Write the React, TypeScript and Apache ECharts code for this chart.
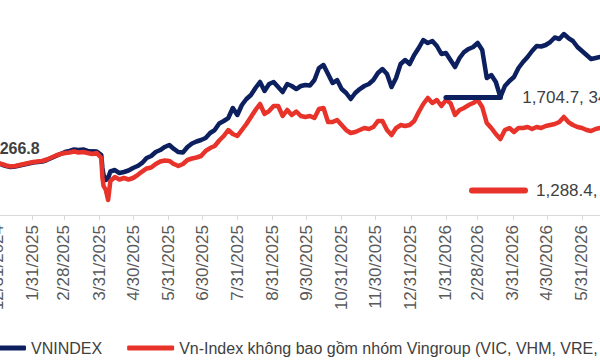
import { useEffect, useRef } from "react";
import * as echarts from "echarts";

// Trading-day samples (every few days), Dec 2024 – Jun 2026
const dates = [
  "2024-12-31", "2025-01-04", "2025-01-08", "2025-01-12", "2025-01-16", "2025-01-20", "2025-01-24", "2025-01-28",
  "2025-02-01", "2025-02-05", "2025-02-09", "2025-02-13", "2025-02-17", "2025-02-21", "2025-02-25", "2025-03-01",
  "2025-03-05", "2025-03-09", "2025-03-13", "2025-03-17", "2025-03-21", "2025-03-25", "2025-03-29", "2025-04-02",
  "2025-04-03", "2025-04-04", "2025-04-06", "2025-04-08", "2025-04-10", "2025-04-14", "2025-04-18", "2025-04-22",
  "2025-04-26", "2025-04-30", "2025-05-04", "2025-05-08", "2025-05-12", "2025-05-16", "2025-05-20", "2025-05-24",
  "2025-05-28", "2025-06-01", "2025-06-05", "2025-06-09", "2025-06-13", "2025-06-17", "2025-06-21", "2025-06-25",
  "2025-06-29", "2025-07-03", "2025-07-07", "2025-07-11", "2025-07-15", "2025-07-19", "2025-07-23", "2025-07-27",
  "2025-07-31", "2025-08-04", "2025-08-08", "2025-08-12", "2025-08-16", "2025-08-20", "2025-08-24", "2025-08-28",
  "2025-09-01", "2025-09-05", "2025-09-09", "2025-09-13", "2025-09-17", "2025-09-21", "2025-09-25", "2025-09-29",
  "2025-10-03", "2025-10-07", "2025-10-11", "2025-10-15", "2025-10-19", "2025-10-23", "2025-10-27", "2025-10-31",
  "2025-11-04", "2025-11-08", "2025-11-12", "2025-11-16", "2025-11-20", "2025-11-24", "2025-11-28", "2025-12-02",
  "2025-12-06", "2025-12-10", "2025-12-14", "2025-12-18", "2025-12-22", "2025-12-26", "2025-12-30", "2026-01-03",
  "2026-01-07", "2026-01-11", "2026-01-15", "2026-01-19", "2026-01-23", "2026-01-27", "2026-01-31", "2026-02-04",
  "2026-02-08", "2026-02-12", "2026-02-16", "2026-02-20", "2026-02-24", "2026-02-28", "2026-03-04", "2026-03-08",
  "2026-03-12", "2026-03-16", "2026-03-20", "2026-03-24", "2026-03-28", "2026-04-01", "2026-04-05", "2026-04-09",
  "2026-04-13", "2026-04-17", "2026-04-21", "2026-04-25", "2026-04-29", "2026-05-03", "2026-05-07", "2026-05-11",
  "2026-05-15", "2026-05-19", "2026-05-23", "2026-05-27", "2026-05-31", "2026-06-04", "2026-06-08", "2026-06-12",
  "2026-06-16",
];

const vnindex = [
  1266.8, 1255.9, 1245.9, 1239.2, 1242.6, 1249.2, 1255.9, 1262.5,
  1269.2, 1272.5, 1275.8, 1285.8, 1299.1, 1312.4, 1325.7, 1339.0,
  1345.7, 1355.6, 1352.3, 1355.6, 1345.7, 1343.2, 1342.3, 1319.1,
  1232.6, 1186.0, 1152.8, 1166.1, 1209.3, 1219.3, 1199.3, 1206.0,
  1216.0, 1232.6, 1245.9, 1265.9, 1299.1, 1312.4, 1339.0, 1352.3,
  1372.3, 1385.6, 1359.0, 1339.0, 1335.7, 1372.3, 1395.5, 1408.8,
  1418.8, 1432.1, 1465.4, 1485.3, 1528.6, 1545.2, 1565.1, 1631.7,
  1585.1, 1651.6, 1691.5, 1718.1, 1764.7, 1804.6, 1744.7, 1791.3,
  1804.6, 1771.3, 1738.1, 1791.3, 1778.0, 1758.0, 1778.0, 1784.6,
  1781.0, 1817.9, 1897.7, 1917.7, 1857.8, 1797.9, 1817.9, 1758.0,
  1731.4, 1691.5, 1731.4, 1758.0, 1778.0, 1791.3, 1817.9, 1864.4,
  1891.0, 1857.8, 1771.3, 1831.2, 1924.3, 1950.9, 1924.3, 1984.2,
  2030.7, 2083.9, 2064.0, 2077.3, 2044.0, 1990.8, 1997.5, 1950.9,
  1904.3, 1964.2, 2004.1, 2024.1, 2037.4, 2064.0, 2017.4, 1831.2,
  1851.1, 1804.6, 1704.7, 1778.0, 1811.2, 1837.8, 1897.7, 1937.6,
  1970.9, 2010.8, 2044.0, 2040.7, 2050.7, 2070.6, 2100.6, 2090.6,
  2123.8, 2097.2, 2077.3, 2037.4, 2010.8, 1984.2, 1957.6, 1964.2,
  1970.9,
];

const vnindexExVingroup = [
  1266.8, 1259.2, 1249.2, 1242.6, 1245.9, 1252.6, 1259.2, 1265.9,
  1272.5, 1275.8, 1279.2, 1289.1, 1302.4, 1315.7, 1325.7, 1332.4,
  1335.7, 1342.3, 1335.7, 1339.0, 1332.4, 1325.7, 1332.4, 1299.1,
  1166.1, 1112.9, 1086.3, 1019.8, 1146.1, 1172.7, 1156.1, 1166.1,
  1156.1, 1166.1, 1186.0, 1209.3, 1229.3, 1235.9, 1259.2, 1275.8,
  1282.5, 1279.2, 1259.2, 1245.9, 1259.2, 1285.8, 1295.8, 1302.4,
  1312.4, 1345.7, 1365.6, 1378.9, 1415.5, 1445.4, 1485.3, 1458.7,
  1445.4, 1485.3, 1525.2, 1571.8, 1618.4, 1658.3, 1591.8, 1611.7,
  1645.0, 1645.0, 1578.4, 1618.4, 1585.1, 1608.4, 1578.4, 1571.8,
  1578.4, 1565.1, 1625.0, 1631.7, 1538.5, 1538.5, 1551.8, 1518.6,
  1485.3, 1465.4, 1472.0, 1485.3, 1498.6, 1492.0, 1505.3, 1545.2,
  1545.2, 1485.3, 1452.1, 1498.6, 1518.6, 1511.9, 1518.6, 1545.2,
  1605.1, 1658.3, 1698.2, 1664.9, 1684.9, 1645.0, 1684.9, 1664.9,
  1585.1, 1618.4, 1631.7, 1651.6, 1664.9, 1684.9, 1638.3, 1531.9,
  1498.6, 1458.7, 1425.5, 1485.3, 1498.6, 1472.0, 1498.6, 1498.6,
  1505.3, 1492.0, 1505.3, 1498.6, 1511.9, 1518.6, 1525.2, 1538.5,
  1571.8, 1538.5, 1518.6, 1505.3, 1498.6, 1485.3, 1478.7, 1492.0,
  1498.6,
];

const seriesNames = [
  "VNINDEX",
  "Vn-Index không bao gồm nhóm Vingroup (VIC, VHM, VRE, VPL)",
];

// Month-end ticks on the date axis
const monthEndLabels = [
  "12/31/2024", "1/31/2025", "2/28/2025", "3/31/2025", "4/30/2025", "5/31/2025",
  "6/30/2025", "7/31/2025", "8/31/2025", "9/30/2025", "10/31/2025", "11/30/2025",
  "12/31/2025", "1/31/2026", "2/28/2026", "3/31/2026", "4/30/2026", "5/31/2026",
];

// Callout: VNINDEX low in March 2026 and the ex-Vingroup level
const calloutFrom = ["2026-01-31"];
const calloutDate = ["2026-03-20"];
const exVingroupCallout = [1288.4];

const NAVY = "#0c1f5e";
const RED = "#e8332a";
const FONT = "'Liberation Sans', Arial, sans-serif";

const isoTime = (s: string) => {
  const [y, m, d] = s.split("-").map(Number);
  return new Date(y, m - 1, d).getTime();
};
const usTime = (s: string) => {
  const [m, d, y] = s.split("/").map(Number);
  return new Date(y, m - 1, d).getTime();
};
const fmt1 = (v: number) =>
  v.toLocaleString("en-US", { minimumFractionDigits: 1, maximumFractionDigits: 1 });

export default function App() {
  const ref = useRef<HTMLDivElement>(null);

  useEffect(() => {
    if (!ref.current) return;
    const chart = echarts.init(ref.current, undefined, { renderer: "svg" });

    const base = vnindex[0];
    const lowIdx = dates.indexOf(calloutDate[0]);
    const lowVal = vnindex[lowIdx];
    const pct = (v: number) => ((v / base - 1) * 100).toFixed(1) + "%";
    const tickValues = monthEndLabels.map(usTime);

    chart.setOption({
      animation: false,
      textStyle: { fontFamily: FONT },
      grid: {
        left: -3,
        right: -16,
        top: 0,
        bottom: 145,
        containLabel: false,
        outerBoundsMode: "none",
      },
      legend: {
        data: seriesNames,
        left: -26,
        top: 335,
        width: 2000,
        icon: "roundRect",
        itemWidth: 47,
        itemHeight: 5,
        itemGap: 25,
        textStyle: { fontSize: 16, color: "#404040", fontFamily: FONT },
        selectedMode: false,
      },
      xAxis: {
        type: "value",
        min: isoTime("2024-12-31"),
        max: isoTime("2026-06-30"),
        axisLine: { show: true, lineStyle: { color: "#d9d9d9", width: 1 } },
        axisTick: {
          show: true,
          customValues: tickValues,
          length: 5,
          lineStyle: { color: "#d9d9d9" },
        },
        axisLabel: {
          customValues: tickValues,
          rotate: 90,
          margin: 10,
          fontSize: 17,
          color: "#595959",
          fontFamily: FONT,
          showMinLabel: true,
          showMaxLabel: true,
          hideOverlap: false,
          formatter: (v: number) => {
            const d = new Date(v);
            return `${d.getMonth() + 1}/${d.getDate()}/${d.getFullYear()}`;
          },
        },
        splitLine: { show: false },
      },
      yAxis: {
        type: "value",
        min: 920,
        max: 2350,
        show: false,
        splitLine: { show: false },
      },
      series: [
        {
          name: seriesNames[0],
          type: "line",
          data: dates.map((d, i) => [isoTime(d), vnindex[i]]),
          showSymbol: false,
          symbol: "none",
          lineStyle: { color: NAVY, width: 4.5, cap: "round", join: "round" },
          itemStyle: { color: NAVY },
          emphasis: { disabled: true },
          markPoint: {
            symbol: "circle",
            symbolSize: 0,
            data: [{ coord: [isoTime(dates[0]), base], value: base }],
            label: {
              show: true,
              position: "inside",
              offset: [16, -14],
              formatter: () => fmt1(base),
              fontSize: 16,
              fontWeight: "bold",
              color: "#404040",
              fontFamily: FONT,
            },
          },
          markLine: {
            z: 5,
            symbol: ["none", "none"],
            silent: true,
            lineStyle: { color: NAVY, width: 5, type: "solid", cap: "round" },
            label: {
              show: true,
              position: "end",
              distance: 22,
              formatter: () => `${fmt1(lowVal)}, ${pct(lowVal)}`,
              fontSize: 17,
              color: "#404040",
              fontFamily: FONT,
            },
            data: [
              [
                { coord: [isoTime(calloutFrom[0]), lowVal] },
                { coord: [isoTime(calloutDate[0]), lowVal] },
              ],
            ],
          },
        },
        {
          name: seriesNames[1],
          type: "line",
          data: dates.map((d, i) => [isoTime(d), vnindexExVingroup[i]]),
          showSymbol: false,
          symbol: "none",
          lineStyle: { color: RED, width: 4.5, cap: "round", join: "round" },
          itemStyle: { color: RED },
          emphasis: { disabled: true },
        },
      ],
      graphic: [
        {
          type: "line",
          shape: { x1: 472, y1: 190.5, x2: 525, y2: 190.5 },
          style: { stroke: RED, lineWidth: 6, lineCap: "round" },
        },
        {
          type: "text",
          x: 536,
          y: 190.5,
          style: {
            text: `${fmt1(exVingroupCallout[0])}, ${pct(exVingroupCallout[0])}`,
            fontSize: 17,
            fill: "#404040",
            fontFamily: FONT,
            verticalAlign: "middle",
          },
        },
      ],
    });

    return () => chart.dispose();
  }, []);

  return (
    <div
      ref={ref}
      style={{ position: "fixed", left: 0, top: 0, width: 600, height: 360, background: "#fff" }}
    />
  );
}
